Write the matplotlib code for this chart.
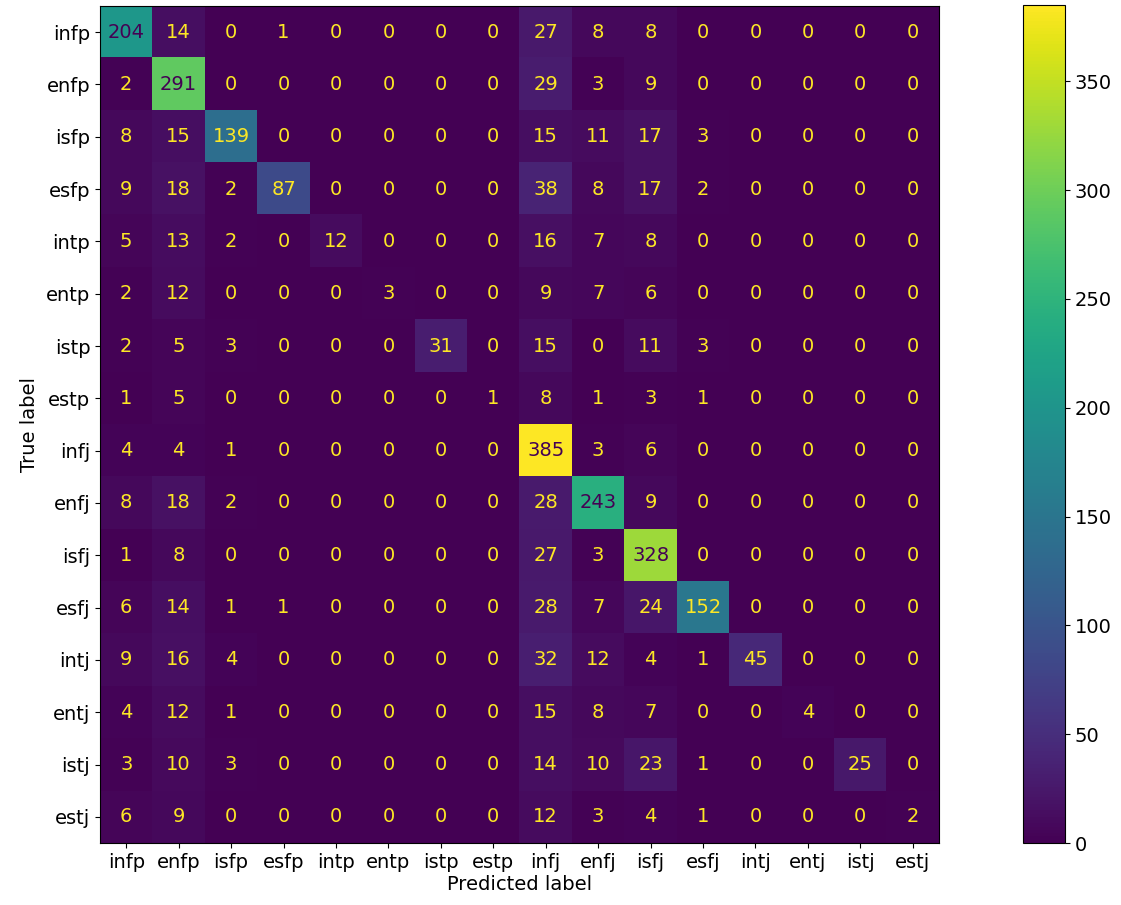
import matplotlib
matplotlib.use("Agg")
import matplotlib.pyplot as plt
import numpy as np

# Etiquetes de les classes (MBTI)
labels = ["infp", "enfp", "isfp", "esfp", "intp", "entp", "istp", "estp",
          "infj", "enfj", "isfj", "esfj", "intj", "entj", "istj", "estj"]

# Matriu de confusió, fila a fila (true label)
row_infp = [204, 14, 0, 1, 0, 0, 0, 0, 27, 8, 8, 0, 0, 0, 0, 0]
row_enfp = [2, 291, 0, 0, 0, 0, 0, 0, 29, 3, 9, 0, 0, 0, 0, 0]
row_isfp = [8, 15, 139, 0, 0, 0, 0, 0, 15, 11, 17, 3, 0, 0, 0, 0]
row_esfp = [9, 18, 2, 87, 0, 0, 0, 0, 38, 8, 17, 2, 0, 0, 0, 0]
row_intp = [5, 13, 2, 0, 12, 0, 0, 0, 16, 7, 8, 0, 0, 0, 0, 0]
row_entp = [2, 12, 0, 0, 0, 3, 0, 0, 9, 7, 6, 0, 0, 0, 0, 0]
row_istp = [2, 5, 3, 0, 0, 0, 31, 0, 15, 0, 11, 3, 0, 0, 0, 0]
row_estp = [1, 5, 0, 0, 0, 0, 0, 1, 8, 1, 3, 1, 0, 0, 0, 0]
row_infj = [4, 4, 1, 0, 0, 0, 0, 0, 385, 3, 6, 0, 0, 0, 0, 0]
row_enfj = [8, 18, 2, 0, 0, 0, 0, 0, 28, 243, 9, 0, 0, 0, 0, 0]
row_isfj = [1, 8, 0, 0, 0, 0, 0, 0, 27, 3, 328, 0, 0, 0, 0, 0]
row_esfj = [6, 14, 1, 1, 0, 0, 0, 0, 28, 7, 24, 152, 0, 0, 0, 0]
row_intj = [9, 16, 4, 0, 0, 0, 0, 0, 32, 12, 4, 1, 45, 0, 0, 0]
row_entj = [4, 12, 1, 0, 0, 0, 0, 0, 15, 8, 7, 0, 0, 4, 0, 0]
row_istj = [3, 10, 3, 0, 0, 0, 0, 0, 14, 10, 23, 1, 0, 0, 25, 0]
row_estj = [6, 9, 0, 0, 0, 0, 0, 0, 12, 3, 4, 1, 0, 0, 0, 2]

cm = np.array([row_infp, row_enfp, row_isfp, row_esfp, row_intp, row_entp,
               row_istp, row_estp, row_infj, row_enfj, row_isfj, row_esfj,
               row_intj, row_entj, row_istj, row_estj])

W, H = 1121, 905
fig = plt.figure(figsize=(W / 100, H / 100), dpi=100)
ax = fig.add_axes([100 / W, 62 / H, 839 / W, 837 / H])
cax = fig.add_axes([1023 / W, 62 / H, 42 / W, 838 / H])

cmap = plt.get_cmap("viridis")
im = ax.imshow(cm, cmap=cmap, interpolation="nearest", aspect="auto")

# Color del text com a sklearn: fosc sobre valors alts, groc sobre baixos
thresh = (cm.max() + cm.min()) / 2.0
n = len(labels)
for i in range(n):
    for j in range(n):
        if cm[i, j] > thresh:
            color = cmap(0.0)
        else:
            color = cmap(1.0)
        ax.text(j, i, str(cm[i, j]), ha="center", va="center",
                color=color, fontsize=14)

ax.set_xticks(range(n))
ax.set_yticks(range(n))
ax.set_xticklabels(labels, fontsize=14)
ax.set_yticklabels(labels, fontsize=14)
ax.set_xlabel("Predicted label", fontsize=14, labelpad=2)
ax.set_ylabel("True label", fontsize=14, labelpad=5)

cb = fig.colorbar(im, cax=cax)
cb.ax.tick_params(labelsize=14)

fig.savefig("out.png", dpi=100)
